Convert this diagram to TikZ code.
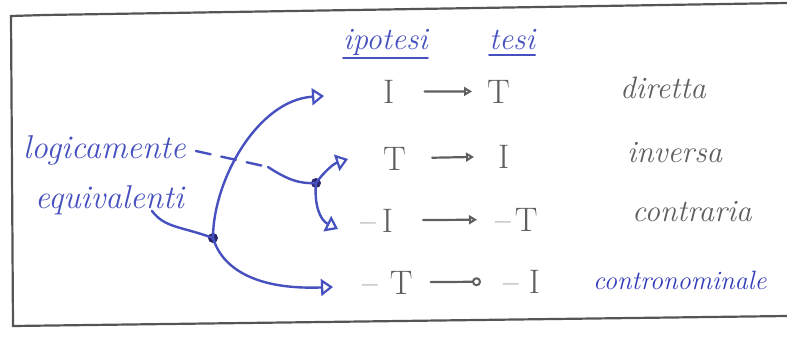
\documentclass[tikz,border=0pt]{standalone}
\usetikzlibrary{arrows.meta}
\definecolor{inkblue}{RGB}{70,80,190}
\definecolor{inkdeep}{RGB}{50,60,185}
\definecolor{inkdot}{RGB}{40,40,110}
\definecolor{pencil}{RGB}{95,95,95}
\definecolor{framegray}{RGB}{85,85,85}
\begin{document}
\begin{tikzpicture}[x=1pt,y=-1pt,
  hand/.style={inner sep=0pt, anchor=base west, font=\fontsize{31}{36}\selectfont\itshape},
  bluetext/.style={hand, text=inkblue},
  greytext/.style={hand, text=pencil},
  letter/.style={inner sep=0pt, anchor=base west, text=pencil, font=\fontsize{34}{40}\selectfont\rmfamily},
  ink/.style={draw=inkblue, line width=2.4pt, line cap=round},
  inktip/.style={-{Triangle[open,length=12pt,width=17pt,line width=2.2pt]}},
  implies/.style={draw=pencil, line width=2.2pt, line cap=round, -{Triangle[open,length=8pt,width=9pt,line width=2pt]}},
  impliesc/.style={draw=pencil, line width=2.2pt, line cap=round, -{Circle[open,length=9pt,line width=2pt]}},
  framel/.style={draw=framegray, line width=2.2pt},
  inkdotst/.style={circle, fill=inkdot, inner sep=0pt, minimum size=10pt},
]
\useasboundingbox (0,0) rectangle (787,337);
% frame
\coordinate (fa) at (787,3);
\coordinate (fb) at (45,15);
\coordinate (fc) at (11,16);
\coordinate (fd) at (13,326);
\coordinate (fe) at (787,316);
\draw[framel] (fa) -- (fb) -- (fc) -- (fd) -- (fe);

% headers
\node[bluetext] (ipo) at (343,50) {ipotesi};
\node[bluetext] (tes) at (489,50) {tesi};
\draw[ink, line width=2pt] ([yshift=-8pt]ipo.base west) -- ([yshift=-8pt]ipo.base east);
\draw[ink, line width=2pt] ([yshift=-5pt]tes.base west) -- ([yshift=-5pt]tes.base east);

% rows of hypothesis -> thesis
\node[letter] (h1) at (383,103) {I};
\node[letter] (t1) at (487,103) {T};
\node[letter] (h2) at (383,170) {T};
\node[letter] (t2) at (498,168) {I};
\node[letter] (h3) at (360,232) {--\kern6pt I};
\node[letter] (t3) at (495,231) {--\kern4pt T};
\node[letter] (h4) at (362,294) {--\kern12pt T};
\node[letter] (t4) at (503,293) {--\kern10pt I};

\draw[implies, shorten <=30pt, shorten >=15pt] (h1) -- (t1);
\draw[implies, shorten <=26pt, shorten >=24pt] (h2) -- (t2);
\draw[implies, shorten <=30pt, shorten >=18pt] (h3) -- (t3);
\draw[impliesc, shorten <=18pt, shorten >=22pt] (h4) -- (t4);

% names
\node[greytext] (dir) at (620,98) {diretta};
\node[greytext] (inv) at (627,162) {inversa};
\node[greytext] (con) at (632,221) {contraria};
\node[bluetext, text=inkdeep, font=\fontsize{26.5}{30}\selectfont\itshape] (ctn) at (593,289) {contronominale};

% left labels
\node[bluetext, font=\fontsize{33}{38}\selectfont\itshape] (logi) at (23,158) {logicamente};
\node[bluetext, font=\fontsize{33}{38}\selectfont\itshape] (equi) at (35,208) {equivalenti};

% dots and free ends
\node[inkdotst] (d1) at (213,238) {};
\node[inkdotst] (d2) at (316,183) {};
\coordinate (a1) at (324,96);
\coordinate (a2) at (348,159);
\coordinate (a3) at (338,229);
\coordinate (a4) at (333,287);
\coordinate (e1) at (152,211);
\coordinate (l1) at (268,167);

% blue connectors
\draw[ink, inktip] (d1.center) .. controls (213,180) and (258,100) .. (a1);
\draw[ink, inktip] (d1.center) .. controls (222,268) and (255,290) .. (a4);
\draw[ink] (e1) .. controls (165,228) and (180,226) .. (d1.center);
\draw[ink, dash pattern=on 15pt off 11pt] ([xshift=10pt,yshift=7pt]logi.base east) -- (l1);
\draw[ink] (l1) .. controls (288,180) and (300,184) .. (d2.center);
\draw[ink, inktip] (d2.center) .. controls (324,172) and (333,164) .. (a2);
\draw[ink, inktip] (d2.center) .. controls (314,205) and (320,220) .. (a3);
\end{tikzpicture}
\end{document}
